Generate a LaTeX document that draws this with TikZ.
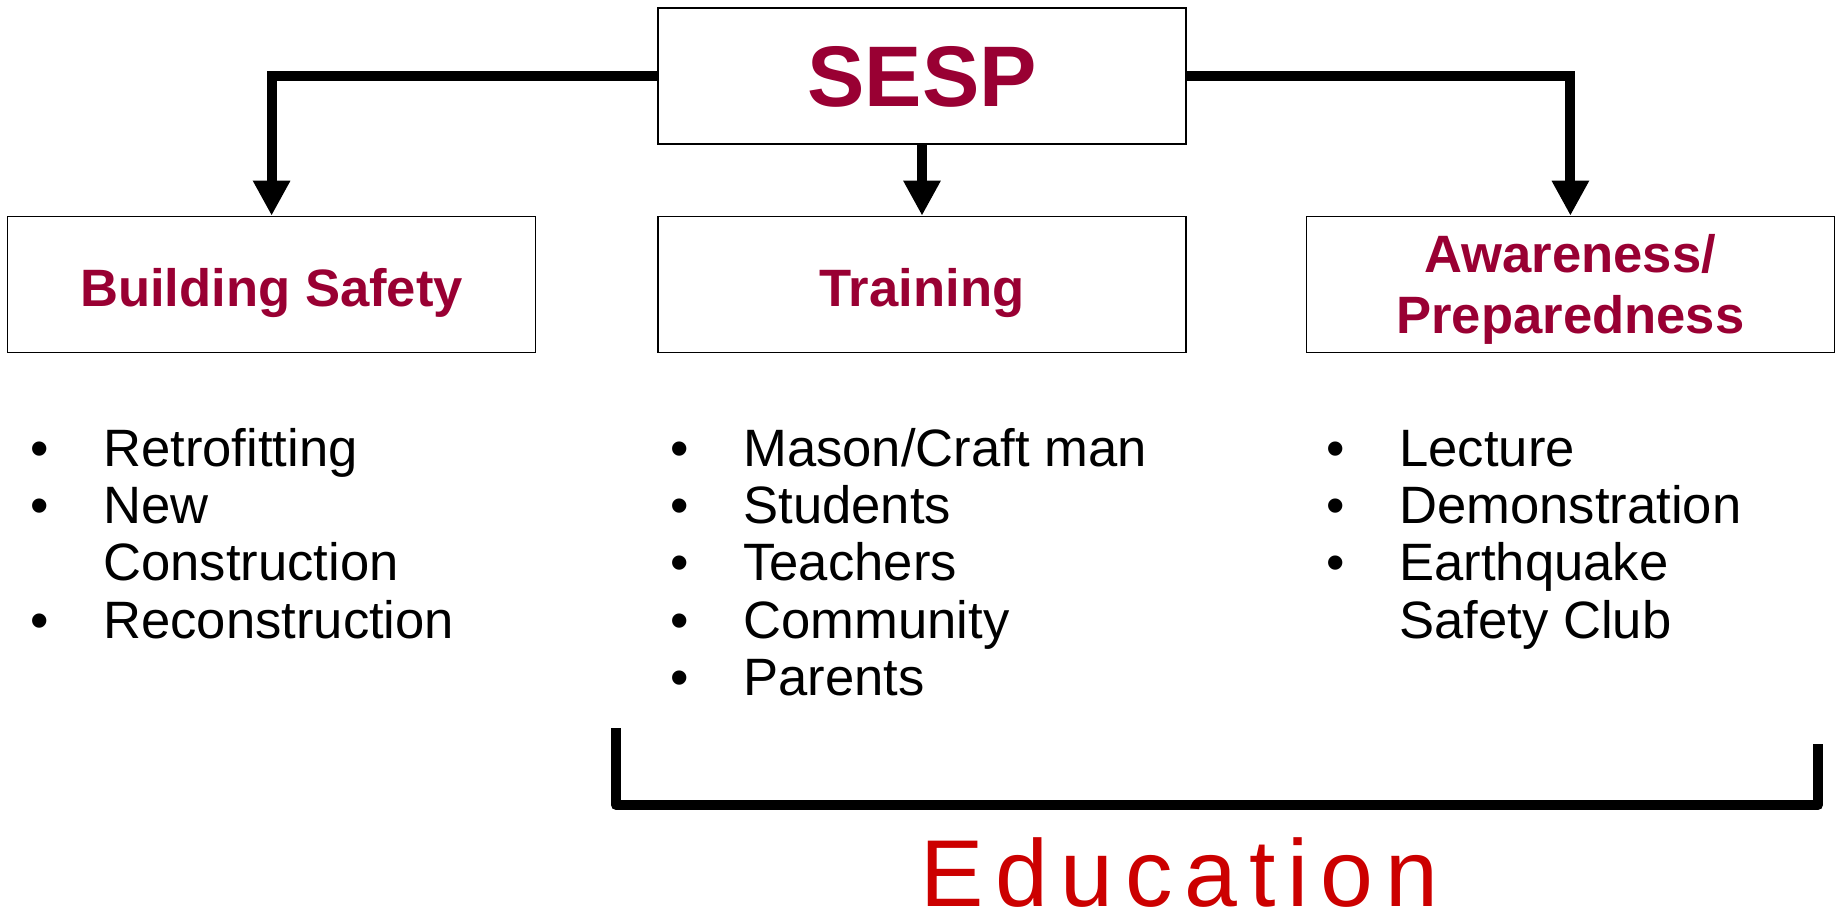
\documentclass[tikz,border=0pt]{standalone}
\usepackage{fontspec}
\setmainfont{Liberation Sans}
\usepackage{tikz}
\usetikzlibrary{arrows.meta,positioning}
\definecolor{HEADCOLOR}{RGB}{153,0,51}
\definecolor{EDUCOLOR}{RGB}{204,0,0}
\tikzset{
  box-style/.style = {
    rectangle, draw, line width=0.7pt,
    minimum width=264pt, minimum height=68pt,
    inner sep=2pt, text height=22pt, text depth=0pt,
    text=HEADCOLOR, font=\fontsize{26.3}{30.5}\selectfont\bfseries
  },
  top-style/.style = {
    box-style, text height=30pt, text depth=0pt,
    font=\fontsize{43}{48}\selectfont\bfseries
  },
  list-style/.style = {
    anchor=base west, inner sep=0pt,
    font=\fontsize{26.3}{28.7}\selectfont
  },
  flow-style/.style = {
    draw, line width=5pt, -{Triangle[length=17.5pt,width=17.5pt]}
  },
  bracket-style/.style = {
    draw, line width=5pt, line join=round
  },
  edu-style/.style = {
    anchor=base west, inner sep=0pt, text=EDUCOLOR,
    font=\fontsize{47.5}{50}\selectfont\addfontfeature{LetterSpace=12.5}
  }
}
\newcommand\bulletList[1]{%
  \begin{tabular}[t]{@{}p{36.5pt}@{}l@{}}#1\end{tabular}}

\begin{document}
\begin{tikzpicture}[x=0.5pt,y=-0.5pt]
    \useasboundingbox (0,0) rectangle (1835,912);

    %%% boxes
    \node[top-style] (sesp) at (922,76) {SESP};
    \node[box-style,below=35.5pt of sesp] (train) {Training};
    \node[box-style,left=60.5pt of train] (build) {Building Safety};
    \node[box-style,right=59.5pt of train,text height=19pt,text depth=30.5pt] (aware)
      {\begin{tabular}[t]{@{}c@{}}Awareness/\\Preparedness\end{tabular}};

    %%% arrows
    \path[flow-style] (sesp.west) -| (build.north);
    \path[flow-style] (sesp.south) -- (train.north);
    \path[flow-style] (sesp.east) -| (aware.north);

    %%% lists
    \node[list-style] (buildList) at (30,466) {\bulletList{
      \textbullet & Retrofitting\\
      \textbullet & New\\
                  & Construction\\
      \textbullet & Reconstruction}};
    \node[list-style] (trainList) at (670,466) {\bulletList{
      \textbullet & Mason/Craft man\\
      \textbullet & Students\\
      \textbullet & Teachers\\
      \textbullet & Community\\
      \textbullet & Parents}};
    \node[list-style] (awareList) at (1326,466) {\bulletList{
      \textbullet & Lecture\\
      \textbullet & Demonstration\\
      \textbullet & Earthquake\\
                  & Safety Club}};

    %%% education bracket
    \coordinate (eduLeft) at (616,728);
    \coordinate (eduBase) at (616,805);
    \coordinate (eduRight) at (1818,744);
    \path[bracket-style] (eduLeft) -- (eduBase) -| (eduRight);
    \node[edu-style] (edu) at (920,906) {Education};
\end{tikzpicture}
\end{document}
